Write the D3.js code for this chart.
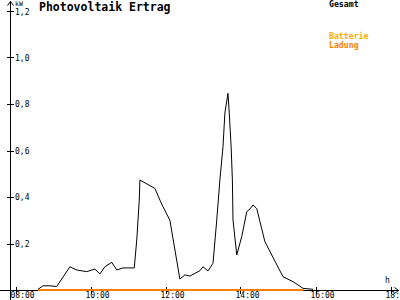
<!DOCTYPE html>
<meta charset="utf-8">

<head>
  <title>Photovoltaik Ertrag</title>
</head>

<style>
  body { margin: 0; background: #fff; }
  svg { display: block; font-family: "DejaVu Sans Mono", monospace; }
</style>

<body>
  <svg width="400" height="300">
    <g></g>
  </svg>

  <script src="https://cdn.jsdelivr.net/npm/d3@7"></script>
  <script>
    // Gesamt (kW)
    var times = ['08:36', '08:44', '08:55', '09:06', '09:27', '09:38', '09:54', '10:07', '10:15', '10:23',
      '10:34', '10:42', '10:52', '11:10', '11:14', '11:18', '11:19', '11:43', '11:51', '11:56',
      '12:07', '12:23', '12:31', '12:39', '12:55', '13:00', '13:08', '13:16', '13:22', '13:27',
      '13:32', '13:35', '13:40', '13:42', '13:45', '13:47', '13:48', '13:54', '14:02', '14:10',
      '14:15', '14:20', '14:26', '14:39', '15:08', '15:24', '15:40', '15:56'];
    var gesamt = [0.003, 0.018, 0.018, 0.015, 0.100, 0.086, 0.079, 0.090, 0.069, 0.100,
      0.119, 0.086, 0.095, 0.095, 0.215, 0.387, 0.473, 0.437, 0.387, 0.358,
      0.300, 0.047, 0.065, 0.060, 0.083, 0.100, 0.082, 0.115, 0.301, 0.473,
      0.616, 0.761, 0.846, 0.761, 0.616, 0.473, 0.301, 0.151, 0.230, 0.337,
      0.348, 0.366, 0.350, 0.208, 0.057, 0.036, 0.007, 0.003];

    // Batterie Ladung
    var ladungTimes = ['08:36', '15:40'];
    var ladung = [0, 0];

    var xTicks = [8, 10, 12, 14, 16, 18];
    var xTickLabels = ['08:00', '10:00', '12:00', '14:00', '16:00', '18:00'];
    var yTicks = [0.2, 0.4, 0.6, 0.8, 1.0, 1.2];
    var yTickLabels = ['0,2', '0,4', '0,6', '0,8', '1,0', '1,2'];

    function hours(t) {
      var p = t.split(':');
      return +p[0] + p[1] / 60;
    }

    var x = d3.scaleLinear().domain([8, 18]).range([15.5, 390.5]);
    var y = d3.scaleLinear().domain([0, 1.2]).range([290, 11]);

    var scene = d3.select('g');

    // y axis with arrow
    scene.append('path')
      .attr('d', 'M10.5,300V1.5M7.5,5.5L10.5,1.5L13.5,5.5')
      .attr('fill', 'none')
      .attr('stroke', '#000');
    scene.selectAll('.ytick')
      .data(yTicks)
      .enter()
      .append('line')
      .attr('x1', 7).attr('x2', 14)
      .attr('y1', d => Math.round(y(d)) + 0.5)
      .attr('y2', d => Math.round(y(d)) + 0.5)
      .attr('stroke', '#000');
    scene.selectAll('.ylab')
      .data(yTicks)
      .enter()
      .append('text')
      .attr('x', 15)
      .attr('y', d => y(d) + (d === 1.2 ? 4 : 3))
      .attr('font-size', 8)
      .text((d, i) => yTickLabels[i]);
    scene.append('text')
      .attr('x', 15).attr('y', 5.5)
      .attr('font-size', 6.5)
      .text('kW');

    // x axis with arrow
    scene.append('path')
      .attr('d', 'M0,290.5H398.5M394.5,287.5L398.5,290.5L394.5,293.5')
      .attr('fill', 'none')
      .attr('stroke', '#000');
    scene.selectAll('.xtick')
      .data(xTicks)
      .enter()
      .append('line')
      .attr('x1', d => Math.round(x(d)) + 0.5)
      .attr('x2', d => Math.round(x(d)) + 0.5)
      .attr('y1', 287).attr('y2', 294)
      .attr('stroke', '#000');
    scene.selectAll('.xlab')
      .data(xTicks)
      .enter()
      .append('text')
      .attr('x', d => x(d) - 5)
      .attr('y', 298)
      .attr('font-size', 8)
      .text((d, i) => xTickLabels[i]);
    scene.append('text')
      .attr('x', 385).attr('y', 283)
      .attr('font-size', 8)
      .text('h');

    // title and legend
    scene.append('text')
      .attr('x', 39).attr('y', 11)
      .attr('font-size', 11.5)
      .attr('font-weight', 'bold')
      .text('Photovoltaik Ertrag');
    scene.append('text')
      .attr('x', 329).attr('y', 7)
      .attr('font-size', 8.2)
      .attr('font-weight', 'bold')
      .text('Gesamt');
    scene.append('text')
      .attr('x', 329).attr('y', 38.5)
      .attr('font-size', 8.2)
      .attr('font-weight', 'bold')
      .attr('fill', '#ffaa00')
      .text('Batterie');
    scene.append('text')
      .attr('x', 329).attr('y', 47.5)
      .attr('font-size', 8.2)
      .attr('font-weight', 'bold')
      .attr('fill', '#ff7f00')
      .text('Ladung');

    var line = d3.line()
      .x(d => x(hours(d[0])))
      .y(d => y(d[1]));

    scene.append('path')
      .datum(d3.zip(ladungTimes, ladung))
      .attr('d', line)
      .attr('fill', 'none')
      .attr('stroke', '#ff7f00')
      .attr('stroke-width', 2);

    scene.append('path')
      .datum(d3.zip(times, gesamt))
      .attr('d', line)
      .attr('fill', 'none')
      .attr('stroke', '#000')
      .attr('stroke-width', 1);
  </script>
</body>

</html>
